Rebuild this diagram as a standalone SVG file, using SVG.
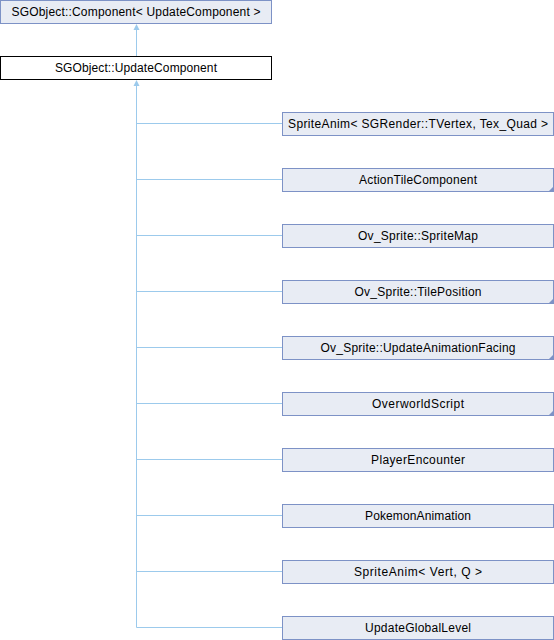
<svg xmlns="http://www.w3.org/2000/svg" width="554" height="640" viewBox="0 0 554 640">
<defs>
<style>
.n rect{fill:#e8ecf4;stroke:#7d92c6;stroke-width:1}
.n.cur rect{fill:#ffffff;stroke:#000000}
.n text{font-family:"Liberation Sans",Arial,sans-serif;font-size:12px;fill:#000000;text-anchor:middle}
.n polygon{fill:#7d92c6}
.e line{stroke:#9ccaec;stroke-width:1;fill:none}
.e polygon{fill:#9ccaec}
</style>
</defs>
<rect x="0" y="0" width="554" height="640" fill="#ffffff"/>
<g id="connectors" class="e">
<line x1="136.5" y1="30" x2="136.5" y2="56.5"/>
<polygon points="136.5,24 133.5,30 139.5,30"/>
<line x1="136.5" y1="86" x2="136.5" y2="627.5"/>
<polygon points="136.5,80 133.5,86 139.5,86"/>
<line x1="136.5" y1="123.5" x2="282.5" y2="123.5"/>
<line x1="136.5" y1="179.5" x2="282.5" y2="179.5"/>
<line x1="136.5" y1="235.5" x2="282.5" y2="235.5"/>
<line x1="136.5" y1="291.5" x2="282.5" y2="291.5"/>
<line x1="136.5" y1="347.5" x2="282.5" y2="347.5"/>
<line x1="136.5" y1="403.5" x2="282.5" y2="403.5"/>
<line x1="136.5" y1="459.5" x2="282.5" y2="459.5"/>
<line x1="136.5" y1="515.5" x2="282.5" y2="515.5"/>
<line x1="136.5" y1="571.5" x2="282.5" y2="571.5"/>
<line x1="136.5" y1="627.5" x2="282.5" y2="627.5"/>
</g>
<g id="node-component" class="n">
<rect x="0.5" y="0.5" width="271" height="23"/>
<text x="136" y="16" textLength="249" lengthAdjust="spacing">SGObject::Component&lt; UpdateComponent &gt;</text>
</g>
<g id="node-updatecomponent" class="n cur">
<rect x="0.5" y="56.5" width="271" height="23"/>
<text x="136" y="72" textLength="162" lengthAdjust="spacing">SGObject::UpdateComponent</text>
</g>
<g id="node-spriteanim-tvertex" class="n">
<rect x="282.5" y="112.5" width="271" height="23"/>
<text x="418" y="128" textLength="260" lengthAdjust="spacing">SpriteAnim&lt; SGRender::TVertex, Tex_Quad &gt;</text>
</g>
<g id="node-actiontile" class="n">
<rect x="282.5" y="168.5" width="271" height="23"/>
<text x="418" y="184" textLength="118" lengthAdjust="spacing">ActionTileComponent</text>
<polygon points="554,186 554,192 548,192"/>
</g>
<g id="node-spritemap" class="n">
<rect x="282.5" y="224.5" width="271" height="23"/>
<text x="418" y="240" textLength="120" lengthAdjust="spacing">Ov_Sprite::SpriteMap</text>
</g>
<g id="node-tileposition" class="n">
<rect x="282.5" y="280.5" width="271" height="23"/>
<text x="418" y="296" textLength="127" lengthAdjust="spacing">Ov_Sprite::TilePosition</text>
<polygon points="554,298 554,304 548,304"/>
</g>
<g id="node-updateanimfacing" class="n">
<rect x="282.5" y="336.5" width="271" height="23"/>
<text x="418" y="352" textLength="195" lengthAdjust="spacing">Ov_Sprite::UpdateAnimationFacing</text>
<polygon points="554,354 554,360 548,360"/>
</g>
<g id="node-overworldscript" class="n">
<rect x="282.5" y="392.5" width="271" height="23"/>
<text x="418" y="408" textLength="92" lengthAdjust="spacing">OverworldScript</text>
<polygon points="554,410 554,416 548,416"/>
</g>
<g id="node-playerencounter" class="n">
<rect x="282.5" y="448.5" width="271" height="23"/>
<text x="418" y="464" textLength="94" lengthAdjust="spacing">PlayerEncounter</text>
</g>
<g id="node-pokemonanimation" class="n">
<rect x="282.5" y="504.5" width="271" height="23"/>
<text x="418" y="520" textLength="106" lengthAdjust="spacing">PokemonAnimation</text>
</g>
<g id="node-spriteanim-vert" class="n">
<rect x="282.5" y="560.5" width="271" height="23"/>
<text x="418" y="576" textLength="128" lengthAdjust="spacing">SpriteAnim&lt; Vert, Q &gt;</text>
</g>
<g id="node-updategloballevel" class="n">
<rect x="282.5" y="616.5" width="271" height="23"/>
<text x="418" y="632" textLength="106" lengthAdjust="spacing">UpdateGlobalLevel</text>
</g>
</svg>
